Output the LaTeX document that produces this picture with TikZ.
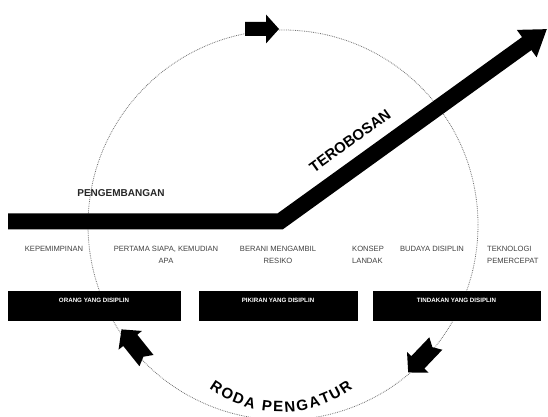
\documentclass[tikz,border=0pt]{standalone}
\usepackage{fontspec}
\setmainfont{Liberation Sans}
\usetikzlibrary{arrows.meta,decorations.text}
\begin{document}
\begin{tikzpicture}[x=1pt,y=1pt,
  ring/.style={densely dotted, black!55, line width=0.8pt},
  bigarrow/.style={line width=16pt, line join=miter, -{Triangle[length=25pt,width=32pt]}},
  lbl/.style={font=\fontsize{7.6}{12}\selectfont, text=black!75, inner sep=0pt, align=center},
  lbll/.style={lbl, align=left, anchor=west},
  boxn/.style={fill=black, draw=black, minimum width=#1, minimum height=29pt, inner sep=0pt,
    text=white, font=\bfseries\fontsize{6.2}{7}\selectfont, text height=4.5pt, text depth=9.5pt},
  notched/.pic={\fill (-20,-9) -- (-15,0) -- (-20,9) -- (6,9) -- (6,15) -- (20,0) -- (6,-15) -- (6,-9) -- cycle;},
  plainarrow/.pic={\fill (-17,-7) -- (4,-7) -- (4,-14.5) -- (17,0) -- (4,14.5) -- (4,7) -- (-17,7) -- cycle;}
]
\useasboundingbox (0,0) rectangle (548,417);
\coordinate (C) at (283,192);
\coordinate (T) at (281,127);
\begin{scope}
  \clip (0,0) rectangle (548,417);
  \draw[ring] (C) circle[radius=195];
\end{scope}

% circulation arrows
\pic at (262,388) {plainarrow};
\pic[rotate=128.7] at (134,72) {notched};
\pic[rotate=226.3] at (422,59) {notched};

% main arrow
\coordinate (start) at (8,195.5);
\coordinate (bend) at (280,195.5);
\coordinate (tip) at (547,388);
\draw[bigarrow] (start) -- (bend) -- (tip);

\node[font=\bfseries\fontsize{15}{15}\selectfont, rotate=35.6] (terobosan) at (350,276) {TEROBOSAN};
\node[font=\bfseries\fontsize{10}{10}\selectfont, text=black!85] (pengembangan) at (121,224) {PENGEMBANGAN};

% labels
\node[lbl] (l1) at (54,168) {KEPEMIMPINAN};
\node[lbl] (l2) at (166,162) {PERTAMA SIAPA, KEMUDIAN\\APA};
\node[lbl] (l3) at (278,162) {BERANI MENGAMBIL\\RESIKO};
\node[lbll] (l4) at (352,162) {KONSEP\\LANDAK};
\node[lbl] (l5) at (432,168) {BUDAYA DISIPLIN};
\node[lbll] (l6) at (487,162) {TEKNOLOGI\\PEMERCEPAT};

% boxes
\node[boxn=172pt] (b1) at (94,111.5) {ORANG YANG DISIPLIN};
\node[boxn=158pt] (b2) at (278,111.5) {PIKIRAN YANG DISIPLIN};
\node[boxn=167pt] (b3) at (456.5,111.5) {TINDAKAN YANG DISIPLIN};

% wheel label
\path[decorate, decoration={text along path, text={|\bfseries\fontsize{15}{15}\selectfont|RODA PENGATUR}, text align=fit to path}]
  (T) ++(234:122) arc[start angle=234, end angle=306, radius=122];
\end{tikzpicture}
\end{document}
